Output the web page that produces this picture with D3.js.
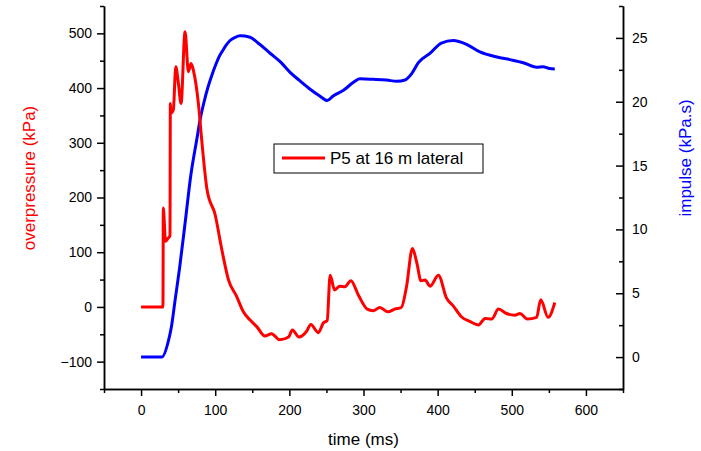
<!DOCTYPE html>
<html>
<head>
<meta charset="utf-8">
<script src="https://cdn.jsdelivr.net/npm/d3@7"></script>
<style>
  body { margin: 0; background: #fff; }
  svg { font-family: "Liberation Sans", Arial, sans-serif; }
</style>
</head>
<body>
<div id="chart"></div>
<script>
// overpressure series (time in ms, kPa)
const pressureTime = [0, 29.5, 30, 33, 36, 39, 39.5, 40, 43.5, 46.8, 50.3, 53.9, 59.3, 63.8, 67.4, 70.5, 77.3, 81.8,
  89, 100, 109, 118, 129, 138, 147, 156, 167, 176, 187, 199, 204, 213, 223, 229, 239, 246, 251, 255, 261, 268, 275,
  283, 293, 305, 313, 322, 333, 342, 351, 358, 366, 372, 377.5, 383, 390, 401, 412, 421, 432, 444, 455, 464, 473,
  482, 493, 504, 511, 521, 533.5, 539, 549, 558];
const pressureValues = [0, 0, 181, 120, 125, 130, 372, 354, 360, 439, 409, 372, 503, 430, 445, 433, 372, 305,
  214, 168, 104, 49, 19, -9, -24, -36, -53, -49, -60, -55, -42, -55, -45, -32, -47, -29, -25, 58, 31, 38, 37,
  48, 22, -4, -7, -1, -9, -4, -1, 37, 107, 80, 48, 49, 38, 58, 16, 2, -18, -27, -33, -21, -22,
  -4, -12, -15, -12, -22, -19, 13, -19, 8];

// impulse series (time in ms, kPa.s)
const impulseTime = [0, 28, 37, 41, 46, 52, 60, 67, 75, 80, 85, 90, 95, 100, 105, 110, 115, 120, 127, 133.5,
  147, 160, 174, 189, 201, 214, 228, 241, 251, 259, 273, 286, 295, 313, 331, 345, 356, 365, 374, 390, 405, 421,
  439, 457, 480, 497.5, 515.5, 533.5, 542, 551, 558];
const impulseValues = [0, 0, 1.3, 2.4, 4.5, 7, 10.8, 14.2, 17, 18.7, 20, 21.1, 22, 22.8, 23.5, 24, 24.45, 24.8, 25.05, 25.16,
  25.05, 24.5, 23.8, 23.06, 22.3, 21.65, 20.98, 20.45, 20.1, 20.45, 20.9, 21.5, 21.8, 21.76, 21.7, 21.6, 21.7, 22.2,
  23.06, 23.8, 24.6, 24.8, 24.5, 23.9, 23.5, 23.3, 23.06, 22.7, 22.75, 22.6, 22.57];

const xTicks = [0, 100, 200, 300, 400, 500, 600];
const yLeftTicks = [-100, 0, 100, 200, 300, 400, 500];
const yRightTicks = [0, 5, 10, 15, 20, 25];
const legendLabel = "P5 at 16 m lateral";

const width = 701, height = 451;
const margin = {top: 6, right: 78, bottom: 62, left: 104};

const svg = d3.select("#chart").append("svg")
  .attr("width", width)
  .attr("height", height);

const xScale = d3.scaleLinear().domain([-50, 650]).range([margin.left, width - margin.right]);
const yLeft = d3.scaleLinear().domain([-150, 550]).range([height - margin.bottom, margin.top]);
const yRight = d3.scaleLinear().domain([-2.5, 27.5]).range([height - margin.bottom, margin.top]);

const x0 = margin.left, x1 = width - margin.right, yBase = height - margin.bottom;

function styleAxis(g) {
  g.selectAll(".domain").attr("stroke", "#000").attr("stroke-width", 1.5);
  g.selectAll(".tick line").attr("stroke", "#000").attr("stroke-width", 1.5);
  g.selectAll(".tick text").attr("fill", "#000").style("font-size", "14px");
}

// x axis: major + minor
svg.append("g")
  .attr("transform", `translate(0, ${yBase})`)
  .call(d3.axisBottom(xScale).tickValues(xTicks).tickSize(7).tickPadding(6).tickSizeOuter(0))
  .call(styleAxis)
  .call(g => g.selectAll(".tick text").attr("dy", "0.9em"));
svg.append("g")
  .attr("transform", `translate(0, ${yBase})`)
  .call(d3.axisBottom(xScale).tickValues(d3.range(-50, 651, 100)).tickSize(4).tickFormat("").tickSizeOuter(0))
  .call(styleAxis);

// left axis
svg.append("g")
  .attr("transform", `translate(${x0}, 0)`)
  .call(d3.axisLeft(yLeft).tickValues(yLeftTicks).tickSize(7).tickPadding(5).tickSizeOuter(0))
  .call(styleAxis);
svg.append("g")
  .attr("transform", `translate(${x0}, 0)`)
  .call(d3.axisLeft(yLeft).tickValues(d3.range(-150, 551, 100)).tickSize(4).tickFormat("").tickSizeOuter(0))
  .call(styleAxis);

// right axis, ticks pointing inward
svg.append("g")
  .attr("transform", `translate(${x1}, 0)`)
  .call(d3.axisRight(yRight).tickValues(yRightTicks).tickSizeInner(-7).tickPadding(9).tickSizeOuter(0))
  .call(styleAxis);
svg.append("g")
  .attr("transform", `translate(${x1}, 0)`)
  .call(d3.axisRight(yRight).tickValues(d3.range(-2.5, 27.6, 5)).tickSizeInner(-4).tickFormat("").tickSizeOuter(0))
  .call(styleAxis);

// axis titles
svg.append("text")
  .attr("transform", "translate(35, 178) rotate(-90)")
  .attr("text-anchor", "middle")
  .attr("fill", "#ff0000")
  .style("font-size", "17px")
  .text("overpressure (kPa)");

svg.append("text")
  .attr("transform", "translate(691, 158) rotate(-90)")
  .attr("text-anchor", "middle")
  .attr("fill", "#0000ff")
  .style("font-size", "17px")
  .text("impulse (kPa.s)");

svg.append("text")
  .attr("x", (x0 + x1) / 2)
  .attr("y", 445)
  .attr("text-anchor", "middle")
  .attr("fill", "#000")
  .style("font-size", "17px")
  .text("time (ms)");

// lines
const pressureData = pressureTime.map((t, i) => ({t: t, v: pressureValues[i]}));
const impulseData = impulseTime.map((t, i) => ({t: t, v: impulseValues[i]}));

svg.append("path")
  .datum(impulseData)
  .attr("d", d3.line().curve(d3.curveMonotoneX)
    .x(d => xScale(d.t))
    .y(d => yRight(d.v)))
  .attr("fill", "none")
  .attr("stroke", "#0000ff")
  .attr("stroke-width", 3)
  .attr("stroke-linejoin", "round");

svg.append("path")
  .datum(pressureData)
  .attr("d", d3.line().curve(d3.curveMonotoneX)
    .x(d => xScale(d.t))
    .y(d => yLeft(d.v)))
  .attr("fill", "none")
  .attr("stroke", "#ff0000")
  .attr("stroke-width", 3)
  .attr("stroke-linejoin", "round");

// legend
const legend = svg.append("g").attr("transform", "translate(274, 144)");
legend.append("rect")
  .attr("width", 209).attr("height", 29)
  .attr("fill", "#fff").attr("stroke", "#000").attr("stroke-width", 1);
legend.append("line")
  .attr("x1", 8).attr("x2", 51).attr("y1", 14).attr("y2", 14)
  .attr("stroke", "#ff0000").attr("stroke-width", 3);
legend.append("text")
  .attr("x", 56).attr("y", 20)
  .attr("fill", "#000")
  .style("font-size", "17px")
  .text(legendLabel);
</script>
</body>
</html>
